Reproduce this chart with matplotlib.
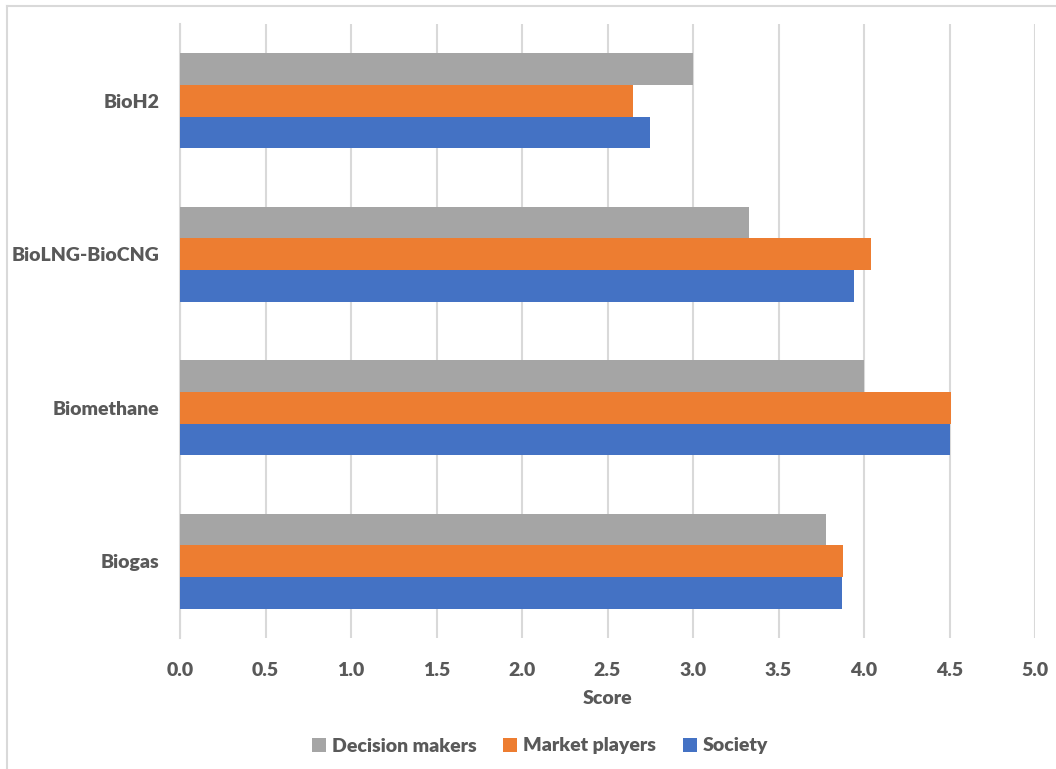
import matplotlib
matplotlib.use("Agg")
import matplotlib.pyplot as plt
from matplotlib.lines import Line2D
import numpy as np

plt.rcParams['font.family'] = ['Lato', 'DejaVu Sans']

# ── Data ─────────────────────────────────────────────────────────
categories = ["Biogas", "Biomethane", "BioLNG-BioCNG", "BioH2"]
society = [3.87, 4.50, 3.94, 2.75]
market_players = [3.88, 4.51, 4.04, 2.65]
decision_makers = [3.78, 4.00, 3.33, 3.00]
x_ticks = [0.0, 0.5, 1.0, 1.5, 2.0, 2.5, 3.0, 3.5, 4.0, 4.5, 5.0]

TEXT = "#595959"
GRID = "#d9d9d9"
C_DEC = "#A5A5A5"
C_MKT = "#ED7D31"
C_SOC = "#4472C4"
WEIGHT = "heavy"

fig = plt.figure(figsize=(10.56, 7.69), dpi=100)
ax = fig.add_axes([180 / 1056, 1 - 638 / 769, 855 / 1056, 614 / 769])

y = np.arange(len(categories))
h = 0.206

ax.barh(y - h, society, height=h, color=C_SOC, label="Society", zorder=3)
ax.barh(y, market_players, height=h, color=C_MKT, label="Market players", zorder=3)
ax.barh(y + h, decision_makers, height=h, color=C_DEC, label="Decision makers", zorder=3)

ax.set_xlim(0, 5.0)
ax.set_ylim(-0.5, len(categories) - 0.5)
ax.set_xticks(x_ticks)
ax.set_xticklabels([f"{v:.1f}" for v in x_ticks])
ax.set_yticks(y)
ax.set_yticklabels(categories)

for lbl in ax.get_xticklabels() + ax.get_yticklabels():
    lbl.set_fontweight(WEIGHT)
    lbl.set_fontsize(14)
    lbl.set_color(TEXT)

ax.tick_params(axis="x", length=0, pad=17)
ax.tick_params(axis="y", length=0, pad=15)
ax.grid(axis="x", color=GRID, linewidth=1.5, zorder=0)
for side in ("top", "right", "bottom"):
    ax.spines[side].set_visible(False)
ax.spines["left"].set_color(GRID)
ax.spines["left"].set_linewidth(1.5)

ax.set_xlabel("Score", fontsize=14, fontweight=WEIGHT, color=TEXT, labelpad=8)

# legend in reading order: Decision makers, Market players, Society
handles, labels = ax.get_legend_handles_labels()
leg = fig.legend(handles[::-1], labels[::-1], loc="center",
                 bbox_to_anchor=(540 / 1056, 1 - 746 / 769), ncol=3,
                 frameon=False, fontsize=14, handlelength=0.7,
                 handleheight=0.7, handletextpad=0.3, columnspacing=1.4)
for t in leg.get_texts():
    t.set_color(TEXT)
    t.set_fontweight(WEIGHT)

# chart area outline
fig.add_artist(Line2D([7 / 1056, 1], [1 - 6 / 769, 1 - 6 / 769],
                      transform=fig.transFigure, color=GRID, linewidth=1.5))
fig.add_artist(Line2D([7 / 1056, 7 / 1056], [0, 1 - 6 / 769],
                      transform=fig.transFigure, color=GRID, linewidth=1.5))

fig.savefig("out.png", dpi=100)
